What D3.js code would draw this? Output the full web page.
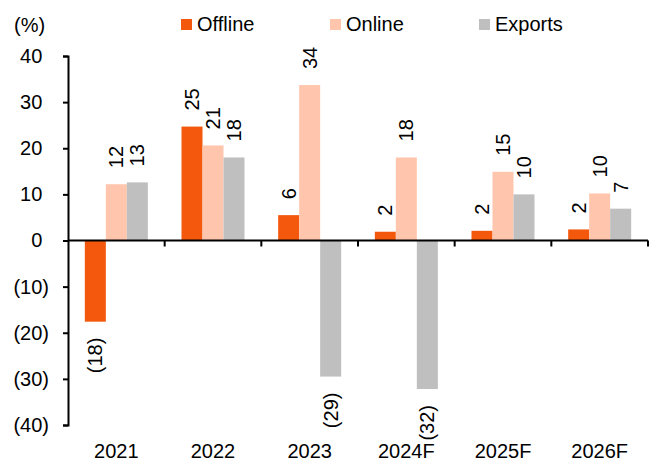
<!DOCTYPE html>
<html>
<head>
<meta charset="utf-8">
<script src="https://cdn.jsdelivr.net/npm/d3@7"></script>
<style>
  html, body { margin: 0; padding: 0; background: #fff; }
  svg { display: block; font-family: "Liberation Sans", Arial, sans-serif; }
</style>
</head>
<body>
<svg id="chart" width="659" height="463"></svg>
<script>
const categories = ["2021", "2022", "2023", "2024F", "2025F", "2026F"];
const offline = [-17.6, 24.7, 5.5, 1.9, 2.1, 2.4];
const online = [12.2, 20.6, 33.7, 18.0, 14.9, 10.2];
const exportsVals = [12.6, 18.0, -29.5, -32.2, 10.0, 6.9];
const offlineLabels = ["(18)", "25", "6", "2", "2", "2"];
const onlineLabels = ["12", "21", "34", "18", "15", "10"];
const exportsLabels = ["13", "18", "(29)", "(32)", "10", "7"];
const yTicks = [40, 30, 20, 10, 0, -10, -20, -30, -40];
const seriesNames = ["Offline", "Online", "Exports"];
const colors = ["#F4580C", "#FFC6AD", "#BFBFBF"];

(function () {
const svg = d3.select("#chart");
const mLeft = 68, mRight = 648, mTop = 56, mBottom = 425;

const y = d3.scaleLinear().domain([-40, 40]).range([mBottom, mTop]);
const x = d3.scaleBand().domain(categories).range([mLeft, mRight]).paddingInner(0).paddingOuter(0);
const bw = 21;
const inner = d3.scaleBand().domain(seriesNames).range([0, bw * 3]);

const series = [
  { name: "Offline", values: offline, labels: offlineLabels, color: colors[0] },
  { name: "Online", values: online, labels: onlineLabels, color: colors[1] },
  { name: "Exports", values: exportsVals, labels: exportsLabels, color: colors[2] }
];

const groupOffset = (x.bandwidth() - bw * 3) / 2;

series.forEach(s => {
  const g = svg.append("g");
  g.selectAll("rect").data(s.values).enter().append("rect")
    .attr("x", (d, i) => x(categories[i]) + groupOffset + inner(s.name))
    .attr("width", inner.bandwidth())
    .attr("y", d => d >= 0 ? y(d) : y(0))
    .attr("height", d => Math.abs(y(d) - y(0)))
    .attr("fill", s.color);
  g.selectAll("text").data(s.values).enter().append("text")
    .attr("transform", (d, i) => {
      const cx = x(categories[i]) + groupOffset + inner(s.name) + inner.bandwidth() / 2;
      const cy = d >= 0 ? y(d) - 16 : y(d) + 16;
      return `translate(${cx},${cy}) rotate(-90)`;
    })
    .attr("text-anchor", d => d >= 0 ? "start" : "end")
    .attr("dominant-baseline", "central")
    .attr("font-size", 20)
    .attr("fill", "#000")
    .text((d, i) => s.labels[i]);
});

// Y axis
const fmt = v => v < 0 ? `(${Math.abs(v)})` : `${v}`;
const yAxis = svg.append("g").attr("transform", `translate(${mLeft},0)`)
  .call(d3.axisLeft(y).tickValues(yTicks).tickSize(5).tickPadding(14).tickFormat(fmt));
yAxis.select(".domain").attr("stroke", "#000").attr("stroke-width", 2);
yAxis.selectAll(".tick line").attr("stroke", "#000").attr("stroke-width", 2);
yAxis.selectAll(".tick text").attr("font-size", 20).attr("fill", "#000")
  .attr("font-family", "Liberation Sans, Arial, sans-serif")
  .attr("dx", d => d >= 0 ? -6.7 : 0);

// X axis at zero
const xAxisG = svg.append("g").attr("transform", `translate(0,${y(0)})`);
xAxisG.append("line").attr("x1", mLeft).attr("x2", mRight).attr("stroke", "#000").attr("stroke-width", 2);
const boundaries = categories.map(c => x(c) + x.bandwidth());
xAxisG.selectAll(".bt").data(boundaries).enter().append("line")
  .attr("x1", d => d).attr("x2", d => d).attr("y1", 0).attr("y2", 6)
  .attr("stroke", "#000").attr("stroke-width", 2);

// Category labels at bottom
svg.append("g").selectAll("text").data(categories).enter().append("text")
  .attr("x", d => x(d) + x.bandwidth() / 2)
  .attr("y", 458)
  .attr("text-anchor", "middle")
  .attr("font-size", 20)
  .attr("fill", "#000")
  .text(d => d);

// Unit label
svg.append("text").attr("x", 14).attr("y", 32).attr("font-size", 20).attr("fill", "#000").text("(%)");

// Legend
const legendX = [181, 330, 479];
const lg = svg.append("g");
series.forEach((s, i) => {
  lg.append("rect").attr("x", legendX[i]).attr("y", 19).attr("width", 11).attr("height", 11).attr("fill", s.color);
  lg.append("text").attr("x", legendX[i] + 16).attr("y", 31).attr("font-size", 20).attr("fill", "#000").text(s.name);
});
})();
</script>
</body>
</html>
